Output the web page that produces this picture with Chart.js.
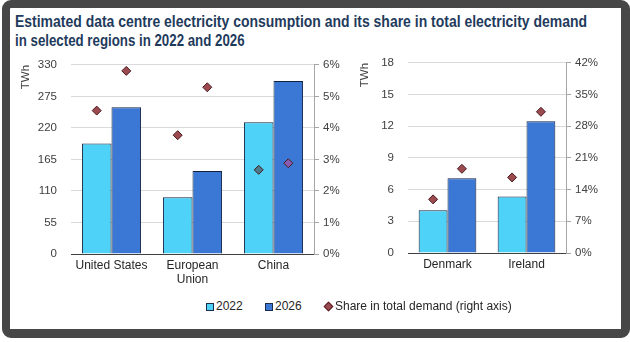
<!DOCTYPE html>
<html>
<head>
<meta charset="utf-8">
<script src="https://cdn.jsdelivr.net/npm/chart.js@4.4.1/dist/chart.umd.min.js"></script>
<style>
  html, body { margin: 0; padding: 0; background: #fff; }
  body { width: 630px; height: 342px; position: relative; overflow: hidden; font-family: Arial, "Liberation Sans", sans-serif; }
  #frame {
    position: absolute; left: 2px; top: 0; width: 628px; height: 338px; box-sizing: border-box;
    border-style: solid; border-color: #474747; border-width: 8px 9px 9px 8px; border-radius: 9px;
  }
  #title { position: absolute; left: 15px; top: 12px; }
  #title div {
    white-space: nowrap; font-weight: bold; font-size: 16px; line-height: 19px; color: #1f3b5c;
    transform-origin: left top;
  }
  canvas { position: absolute; }
  #chartA { left: 12px; top: 44px; }
  #chartB { left: 352px; top: 42px; }
  #legend { position: absolute; left: 0; top: 299px; width: 630px; font-size: 12px; color: #262626; }
  #legend span { position: absolute; top: 0; line-height: 14px; }
  .box { width: 6px; height: 6px; border: 1px solid #1c2c4c; top: 4px !important; }
  .dia { width: 5px; height: 5px; border: 1px solid #5a1f25; background: #9b4a4f; transform: rotate(45deg); top: 4px !important; }
</style>
</head>
<body>
<div id="frame"></div>
<div id="title">
  <div style="transform: scaleX(0.873)">Estimated data centre electricity consumption and its share in total electricity demand</div>
  <div style="transform: scaleX(0.83)">in selected regions in 2022 and 2026</div>
</div>
<canvas id="chartA" width="343" height="248"></canvas>
<canvas id="chartB" width="265" height="250"></canvas>
<div id="legend">
  <span class="box" style="left:206px;background:#4fd2f7"></span><span style="left:216px">2022</span>
  <span class="box" style="left:265px;background:#3b78d6"></span><span style="left:275px">2026</span>
  <span class="dia" style="left:325px"></span><span style="left:335px">Share in total demand (right axis)</span>
</div>
<script>
'use strict';

// large regions
var regionsA = ['United States', ['European', 'Union'], 'China'];
var twh2022A = [193, 99, 230];
var twh2026A = [256, 145, 302];
var share2022A = [4.55, 3.77, 2.67];
var share2026A = [5.81, 5.29, 2.88];

// small regions
var regionsB = ['Denmark', 'Ireland'];
var twh2022B = [4.04, 5.36];
var twh2026B = [7.07, 12.47];
var share2022B = [11.85, 16.7];
var share2026B = [18.6, 31.2];

// axis ranges
var twhTicksA = { max: 330, step: 55 };
var pctTicksA = { max: 6, step: 1 };
var twhTicksB = { max: 18, step: 3 };
var pctTicksB = { max: 42, step: 7 };

var COLOR_2022 = '#4fd2f7';
var COLOR_2026 = '#3b78d6';
var BAR_EDGE = '#13213f';
var DIAMOND = '#9b4a4f';

// move each share marker over the bar of the same year
var alignDiamonds = {
    id: 'alignDiamonds',
    afterDatasetsUpdate: function (chart) {
        chart.data.datasets.forEach(function (ds, i) {
            if (ds.barIndex === undefined) return;
            var bars = chart.getDatasetMeta(ds.barIndex).data;
            chart.getDatasetMeta(i).data.forEach(function (pt, j) {
                pt.x = bars[j].x;
            });
        });
    }
};

function fixSize(prop, size) {
    return function (scale) { scale[prop] = size; };
}

function draw_chart(id, labels, v2022, v2026, s2022, s2026, twh, pct, fill2022, fill2026, sizes) {
    var font = { family: 'Arial, "Liberation Sans", sans-serif', size: 11.5 };
    var diamond = function (fills) {
        return {
            type: 'line', showLine: false, yAxisID: 'y1', order: 1,
            pointStyle: 'rectRot', pointRadius: 4.5, pointBorderWidth: 1,
            pointBorderColor: '#4a1a20', pointBackgroundColor: fills
        };
    };
    var d22 = diamond(fill2022);
    d22.data = s2022; d22.barIndex = 0;
    var d26 = diamond(fill2026);
    d26.data = s2026; d26.barIndex = 1;

    return new Chart(document.getElementById(id), {
        type: 'bar',
        data: {
            labels: labels,
            datasets: [
                { label: '2022', data: v2022, backgroundColor: COLOR_2022, borderColor: BAR_EDGE, borderWidth: 1, order: 2 },
                { label: '2026', data: v2026, backgroundColor: COLOR_2026, borderColor: BAR_EDGE, borderWidth: 1, order: 2 },
                d22,
                d26
            ]
        },
        plugins: [alignDiamonds],
        options: {
            responsive: false,
            animation: false,
            events: [],
            categoryPercentage: 0.73,
            barPercentage: 1.0,
            layout: { padding: 0 },
            plugins: { legend: { display: false }, tooltip: { enabled: false }, title: { display: false } },
            scales: {
                x: {
                    grid: { display: false, drawTicks: false },
                    border: { color: '#404040', width: 1 },
                    ticks: { color: '#262626', font: { family: font.family, size: 12 }, padding: 4, maxRotation: 0, autoSkip: false },
                    afterFit: fixSize('height', sizes.bottom)
                },
                y: {
                    position: 'left',
                    min: 0, max: twh.max,
                    ticks: { stepSize: twh.step, color: '#404040', font: font, padding: 14 },
                    grid: { color: '#dadada', drawTicks: false },
                    border: { display: false },
                    title: { display: true, text: 'TWh', align: 'end', color: '#404040', font: font, padding: { top: sizes.titlePad, bottom: 0 } },
                    afterFit: fixSize('width', sizes.left)
                },
                y1: {
                    position: 'right',
                    min: 0, max: pct.max,
                    ticks: { stepSize: pct.step, color: '#404040', font: font, padding: 4, callback: function (v) { return v + '%'; } },
                    grid: { drawOnChartArea: false, color: '#a6a6a6', tickLength: 5 },
                    border: { color: '#a6a6a6', width: 1 },
                    afterFit: fixSize('width', sizes.right)
                }
            }
        }
    });
}

draw_chart('chartA', regionsA, twh2022A, twh2026A, share2022A, share2026A, twhTicksA, pctTicksA,
    [DIAMOND, DIAMOND, '#4b7a8a'], [DIAMOND, DIAMOND, '#8a5cb0'],
    { bottom: 38, left: 59, right: 41, titlePad: 7 });

draw_chart('chartB', regionsB, twh2022B, twh2026B, share2022B, share2026B, twhTicksB, pctTicksB,
    DIAMOND, DIAMOND,
    { bottom: 39, left: 56, right: 51, titlePad: 6 });
</script>
</body>
</html>
